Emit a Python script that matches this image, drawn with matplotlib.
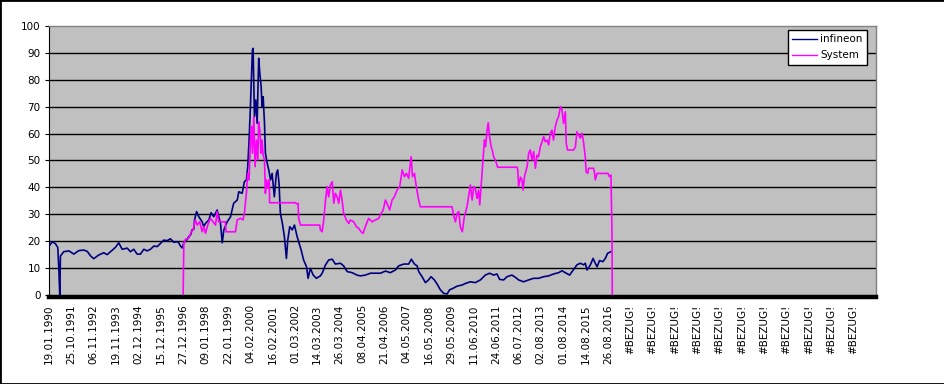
import matplotlib
matplotlib.use("Agg")
import matplotlib.pyplot as plt
from matplotlib.patches import Rectangle

# ---------- Daten (x = Position auf der Rubrikenachse, 1 = ein Beschriftungsabstand) ----------

date_labels = [
    "19.01.1990", "25.10.1991", "06.11.1992", "19.11.1993", "02.12.1994",
    "15.12.1995", "27.12.1996", "09.01.1998", "22.01.1999", "04.02.2000",
    "16.02.2001", "01.03.2002", "14.03.2003", "26.03.2004", "08.04.2005",
    "21.04.2006", "04.05.2007", "16.05.2008", "29.05.2009", "11.06.2010",
    "24.06.2011", "06.07.2012", "02.08.2013", "01.08.2014", "14.08.2015",
    "26.08.2016",
]
ref_error_labels = ["#BEZUG!"] * 11

inf_x = [
    0.00, 0.07, 0.17, 0.29, 0.39, 0.44, 0.48, 0.51, 0.66, 0.89, 1.11, 1.33, 1.56, 1.71,
    1.86, 2.00, 2.23, 2.45, 2.60, 2.83, 2.97, 3.12, 3.27, 3.50, 3.64, 3.79, 3.94, 4.09,
    4.24, 4.39, 4.54, 4.69, 4.84, 4.99, 5.13, 5.29, 5.43, 5.58, 5.73, 5.80, 5.88, 5.96,
    6.03, 6.18, 6.25, 6.33, 6.40, 6.48, 6.51, 6.60, 6.70, 6.85, 6.92, 7.00, 7.15, 7.25,
    7.37, 7.52, 7.67, 7.75, 7.82, 7.97, 8.12, 8.26, 8.42, 8.49, 8.64, 8.74, 8.83, 8.89,
    8.95, 9.01, 9.06, 9.10, 9.13, 9.16, 9.19, 9.25, 9.31, 9.36, 9.38, 9.43, 9.49, 9.53,
    9.58, 9.64, 9.68, 9.76, 9.83, 9.91, 9.98, 10.08, 10.17, 10.23, 10.29, 10.35, 10.44,
    10.53, 10.62, 10.68, 10.77, 10.88, 10.98, 11.10, 11.19, 11.28, 11.39, 11.52, 11.59,
    11.69, 11.82, 11.96, 12.14, 12.22, 12.37, 12.51, 12.67, 12.81, 13.04, 13.18, 13.34,
    13.56, 13.78, 13.93, 14.15, 14.38, 14.60, 14.83, 15.05, 15.27, 15.50, 15.64, 15.87,
    16.09, 16.21, 16.35, 16.47, 16.54, 16.69, 16.84, 16.98, 17.09, 17.24, 17.36, 17.51,
    17.66, 17.81, 17.92, 18.08, 18.26, 18.48, 18.63, 18.85, 19.07, 19.30, 19.52, 19.71,
    19.89, 20.04, 20.16, 20.34, 20.49, 20.71, 20.86, 21.01, 21.23, 21.46, 21.68, 21.90,
    22.13, 22.35, 22.57, 22.80, 22.95, 23.14, 23.29, 23.47, 23.62, 23.77, 23.92, 23.99,
    24.07, 24.22, 24.34, 24.44, 24.52, 24.63, 24.78, 24.89, 24.99, 25.14,
]
inf_y = [
    18.0, 19.0, 19.8, 19.0, 17.7, 9.3, 0.0, 14.5, 16.1, 16.4, 15.2, 16.5, 16.7, 16.2,
    14.5, 13.5, 14.9, 15.7, 15.0, 16.7, 17.7, 19.4, 17.0, 17.4, 16.1, 17.0, 15.2, 15.2,
    17.0, 16.4, 17.0, 18.2, 18.0, 19.2, 20.4, 20.2, 20.9, 19.6, 19.8, 19.4, 18.2, 17.5,
    19.4, 20.7, 21.7, 22.3, 24.2, 24.5, 27.9, 31.0, 29.1, 27.2, 25.4, 26.6, 27.9, 30.6,
    29.1, 31.6, 26.6, 19.4, 24.2, 27.2, 29.1, 34.1, 35.3, 38.4, 37.8, 42.1, 42.8, 47.7,
    57.6, 70.0, 82.4, 91.1, 91.7, 79.9, 66.3, 72.5, 63.8, 81.2, 88.0, 82.4, 77.4, 70.0,
    73.7, 63.8, 52.7, 49.0, 46.5, 42.8, 45.2, 36.5, 45.2, 46.5, 41.5, 30.4, 26.6,
    21.7, 13.6, 20.4, 25.4, 24.2, 26.0, 21.7, 19.2, 16.7, 13.0, 10.5, 6.2,
    9.9, 7.4, 6.2, 7.1, 8.1, 11.2, 13.0, 13.3, 11.5, 11.8, 10.8, 8.7,
    8.3, 7.4, 7.1, 7.4, 8.1, 8.1, 8.1, 8.9, 8.3, 9.3, 10.8, 11.5,
    11.5, 13.3, 11.5, 10.8, 8.7, 6.8, 4.6, 5.6, 6.8, 5.6, 4.1, 1.9,
    0.6, 0.4, 1.9, 2.5, 3.3, 3.7, 4.3, 4.9, 4.6, 5.6, 7.4, 8.1,
    7.4, 7.8, 5.8, 5.6, 6.8, 7.4, 6.6, 5.6, 4.9, 5.6, 6.2, 6.2,
    6.8, 7.1, 7.8, 8.3, 9.0, 8.1, 7.4, 9.5, 11.2, 11.8, 11.2, 11.8,
    9.3, 11.2, 13.6, 11.8, 10.5, 12.8, 12.4, 13.6, 15.5, 16.1,
]

sys_x = [
    6.00, 6.03, 6.10, 6.25, 6.36, 6.45, 6.54, 6.63, 6.74, 6.85, 6.92, 7.00, 7.10, 7.22,
    7.34, 7.45, 7.52, 7.59, 7.89, 7.92, 8.34, 8.42, 8.56, 8.68, 8.74, 8.83, 8.89, 8.95,
    9.01, 9.06, 9.10, 9.16, 9.22, 9.28, 9.34, 9.38, 9.43, 9.49, 9.53, 9.58, 9.64, 9.68,
    9.73, 9.79, 9.85, 9.87, 11.02, 11.10, 11.14, 11.17, 11.25, 12.11, 12.14, 12.22,
    12.29, 12.37, 12.44, 12.51, 12.59, 12.67, 12.74, 12.81, 12.89, 12.96, 13.04, 13.11,
    13.18, 13.30, 13.41, 13.48, 13.63, 13.75, 13.85, 13.96, 14.05, 14.15, 14.30, 14.45,
    14.60, 14.75, 14.86, 14.95, 15.05, 15.12, 15.24, 15.35, 15.45, 15.57, 15.69, 15.80,
    15.90, 15.99, 16.09, 16.20, 16.26, 16.35, 16.40, 16.47, 16.54, 16.61, 18.03, 18.10,
    18.18, 18.26, 18.33, 18.40, 18.49, 18.58, 18.70, 18.77, 18.85, 18.93, 19.00, 19.07,
    19.15, 19.22, 19.27, 19.33, 19.42, 19.48, 19.53, 19.60, 19.65, 19.71, 19.78, 19.83,
    19.89, 19.97, 20.04, 20.07, 20.94, 20.97, 21.01, 21.09, 21.16, 21.21, 21.27, 21.39,
    21.46, 21.53, 21.61, 21.68, 21.76, 21.83, 21.90, 21.98, 22.06, 22.13, 22.20, 22.28,
    22.35, 22.43, 22.50, 22.57, 22.65, 22.73, 22.80, 22.88, 22.95, 23.02, 23.10, 23.14,
    23.20, 23.47, 23.55, 23.62, 23.69, 23.77, 23.85, 23.92, 23.99, 24.03, 24.10, 24.14,
    24.36, 24.40, 24.44, 24.52, 25.01, 25.07, 25.14, 25.19, 25.20,
]
sys_y = [
    0.0, 19.2, 20.7, 21.1, 23.5, 24.2, 27.9, 26.0, 27.2, 23.5, 25.4, 22.9, 26.0, 28.5,
    27.2, 26.0, 31.0, 27.2, 27.2, 23.5, 23.5, 27.9, 28.5, 27.9, 30.4, 37.8, 45.2, 42.8,
    57.6, 62.6, 52.7, 66.3, 47.7, 57.6, 50.2, 64.4, 61.3, 52.7, 57.6, 52.0, 50.2, 37.8,
    42.8, 39.7, 42.8, 34.3, 34.3, 33.8, 34.1, 28.5, 26.0, 26.0, 24.2, 23.5,
    27.9, 35.3, 40.3, 36.5, 40.9, 42.1, 34.1, 37.8, 36.5, 34.1, 39.0, 35.3,
    30.4, 27.9, 26.6, 27.9, 27.2, 25.4, 24.8, 23.5, 22.9, 25.4, 28.5, 27.2,
    27.9, 28.5, 30.4, 31.6, 35.3, 34.1, 31.6, 35.3, 36.5, 39.0, 40.3, 46.5,
    44.0, 45.2, 43.4, 51.4, 44.0, 45.2, 42.1, 38.4, 35.3, 32.8, 32.8, 29.7,
    27.2, 30.4, 31.0, 25.4, 23.5, 29.1, 32.8, 36.5, 40.9, 35.3, 40.3, 39.7,
    35.9, 39.0, 33.5, 40.3, 50.2, 57.6, 55.1, 61.3, 64.0, 58.9, 55.1, 53.9,
    51.4, 50.2, 48.3, 47.5, 47.5, 46.5, 40.3, 43.8, 42.8, 39.0, 44.0, 47.7,
    52.7, 53.9, 50.2, 53.3, 47.1, 52.0, 51.4, 55.1, 57.0, 58.9, 57.0, 57.6,
    55.8, 60.1, 61.3, 57.6, 62.6, 65.1, 66.3, 70.0, 68.8, 63.8, 68.1, 56.4,
    53.9, 53.9, 55.1, 60.7, 59.5, 58.3, 60.1, 56.4, 51.4, 45.8, 45.2, 47.1,
    47.1, 45.8, 42.8, 45.2, 45.2, 44.0, 44.6, 21.7, 0.0,
]

# ---------- Zeichnen ----------

fig = plt.figure(figsize=(9.45, 3.84), dpi=100, facecolor="white")
ax = fig.add_axes([0.0519, 0.2318, 0.8751, 0.7005])
ax.set_facecolor("#C0C0C0")

# Achsenlinien zuerst: set_position setzt die Ticks zurück
for side in ("top", "right"):
    ax.spines[side].set_color("#808080")
    ax.spines[side].set_linewidth(1.0)
ax.spines["left"].set_color("black")
ax.spines["left"].set_linewidth(0.8)
ax.spines["bottom"].set_color("black")
ax.spines["bottom"].set_linewidth(3.2)
ax.spines["bottom"].set_position(("outward", 1.6))

for v in range(10, 100, 10):
    ax.axhline(v, color="black", lw=1.0, zorder=1)

ax.plot(inf_x, inf_y, color="#000080", lw=1.2, label="infineon", zorder=3)
ax.plot(sys_x, sys_y, color="#FF00FF", lw=1.2, label="System", zorder=4)

ax.set_xlim(0, 37)
ax.set_ylim(0, 100)

labels = date_labels + ref_error_labels
ax.set_xticks(range(len(labels)))
ax.set_xticklabels(labels)
ax.tick_params(axis="x", length=0, pad=5, labelrotation=90, labelsize=7.5)

ax.set_yticks(range(0, 101, 10))
ax.tick_params(axis="y", length=3, width=0.8, pad=3, labelsize=7.5, direction="out")

leg = ax.legend(loc="upper right", bbox_to_anchor=(0.989, 0.985), borderaxespad=0,
                fontsize=7.5, fancybox=False, framealpha=1, edgecolor="black",
                handlelength=2.4, handletextpad=0.3, labelspacing=0.6,
                borderpad=0.4)
leg.get_frame().set_linewidth(1.0)
for h in leg.get_lines():
    h.set_linewidth(1.0)

fig.add_artist(Rectangle((0, 0), 1, 1, transform=fig.transFigure, fill=False,
                         ec="black", lw=2))

fig.savefig("out.png", dpi=100)
